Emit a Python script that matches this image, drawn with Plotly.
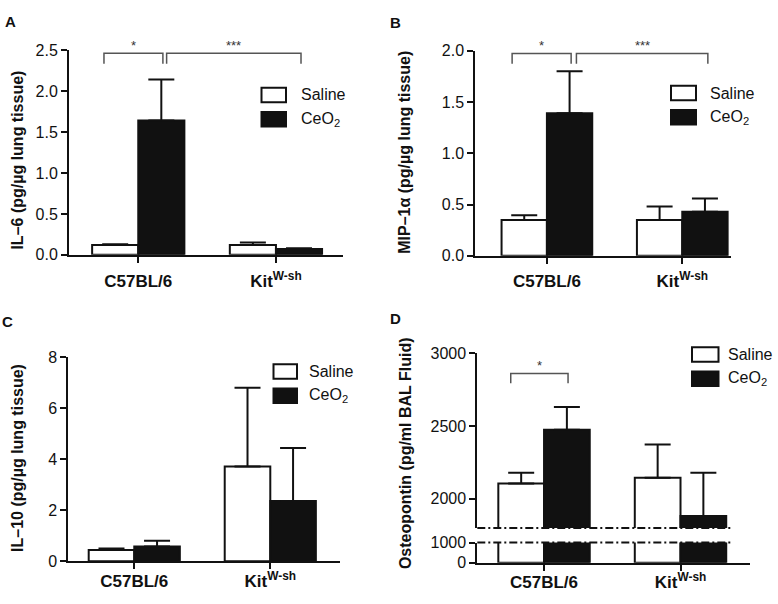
import plotly.graph_objects as go

# ---------------- data ----------------
categories = ["C57BL/6", "KitW-sh"]
tick_text = ["<b>C57BL/6</b>", "<b>Kit<sup>W-sh</sup></b>"]
series_names = ["Saline", "CeO<sub>2</sub>"]

# Panel A: IL-6 (pg/ug lung tissue)  -- mean and top of error bar
il6_saline = [0.12, 0.12]
il6_saline_top = [0.13, 0.15]
il6_ceo2 = [1.64, 0.07]
il6_ceo2_top = [2.14, 0.08]

# Panel B: MIP-1a (pg/ug lung tissue)
mip_saline = [0.35, 0.35]
mip_saline_top = [0.395, 0.48]
mip_ceo2 = [1.39, 0.43]
mip_ceo2_top = [1.80, 0.56]

# Panel C: IL-10 (pg/ug lung tissue)
il10_saline = [0.44, 3.72]
il10_saline_top = [0.50, 6.80]
il10_ceo2 = [0.58, 2.36]
il10_ceo2_top = [0.80, 4.44]

# Panel D: Osteopontin (pg/ml BAL fluid)
opn_saline = [2105, 2145]
opn_saline_top = [2178, 2373]
opn_ceo2 = [2473, 1882]
opn_ceo2_top = [2629, 2178]

# significance brackets: (x start, x end, top y, leg end y, label) in data units
brackets_a = [(-0.249, 0.179, 2.46, 2.334, "*"), (0.206, 1.182, 2.46, 2.334, "***")]
brackets_b = [(-0.257, 0.179, 1.974, 1.874, "*"), (0.218, 1.189, 1.974, 1.874, "***")]
brackets_d = [(-0.244, 0.176, 2860, 2793, "*")]

# ---------------- style / layout ----------------
W, H = 778, 604
BLACK = "#111111"
FONT = "Liberation Sans, Arial, Helvetica, sans-serif"


def fx(px):
    return px / W


def fy(py):
    return 1 - py / H


panels = {
    "A": dict(xa="x", ya="y", xdom=(69, 343), ydom=(254, 43.3), xr=[-0.503, 1.487], yr=[0, 2.5],
              tickvals=[0, 0.5, 1.0, 1.5, 2.0, 2.5], fmt=".1f", lab_off=4),
    "B": dict(xa="x2", ya="y2", xdom=(475.3, 731), ydom=(255, 44), xr=[-0.529, 1.36], yr=[0, 2.0],
              tickvals=[0, 0.5, 1.0, 1.5, 2.0], fmt=".1f", lab_off=3),
    "C": dict(xa="x3", ya="y3", xdom=(68.3, 340), ydom=(569.3, 359.3), xr=[-0.485, 1.5125], yr=[0, 8],
              tickvals=[0, 2, 4, 6, 8], fmt="d", lab_off=-3),
    "D": dict(xa="x4", ya="y4", xdom=(477.3, 749.7), ydom=(535, 355), xr=[-0.489, 1.507], yr=[1800, 3000],
              tickvals=[2000, 2500, 3000], fmt="d", lab_off=0),
    "D2": dict(xa="x5", ya="y5", xdom=(477.3, 749.7), ydom=(570.7, 550), xr=[-0.489, 1.507], yr=[0, 1000],
               tickvals=[0, 1000], fmt="d", lab_off=-3),
}

fig = go.Figure()


def add_pair(p, sal, sal_top, ceo, ceo_top, errors=True):
    cfg = panels[p]
    for name, vals, tops, fill in [(series_names[0], sal, sal_top, "white"),
                                   (series_names[1], ceo, ceo_top, BLACK)]:
        fig.add_trace(go.Bar(
            x=categories, y=vals, name=name, xaxis=cfg["xa"], yaxis=cfg["ya"],
            offsetgroup=name, showlegend=False,
            marker=dict(color=fill, line=dict(color=BLACK, width=2)),
            error_y=dict(type="data", symmetric=False,
                         array=[t - v for t, v in zip(tops, vals)], arrayminus=[0] * len(vals),
                         color=BLACK, thickness=2, width=13, visible=errors),
        ))


add_pair("A", il6_saline, il6_saline_top, il6_ceo2, il6_ceo2_top)
add_pair("B", mip_saline, mip_saline_top, mip_ceo2, mip_ceo2_top)
add_pair("C", il10_saline, il10_saline_top, il10_ceo2, il10_ceo2_top)
add_pair("D", opn_saline, opn_saline_top, opn_ceo2, opn_ceo2_top)
add_pair("D2", opn_saline, opn_saline_top, opn_ceo2, opn_ceo2_top, errors=False)

layout_axes = {}
for key, cfg in panels.items():
    xname = "xaxis" + cfg["xa"][1:]
    yname = "yaxis" + cfg["ya"][1:]
    show_x = key != "D"
    layout_axes[xname] = dict(
        domain=[fx(cfg["xdom"][0]), fx(cfg["xdom"][1])], anchor=cfg["ya"], type="category",
        range=cfg["xr"], showgrid=False, zeroline=False,
        showline=show_x, linecolor=BLACK, linewidth=2,
        ticks="outside" if show_x else "", ticklen=6, tickwidth=2, tickcolor=BLACK,
        tickvals=categories, ticktext=tick_text, showticklabels=show_x,
        ticklabelstandoff=cfg["lab_off"],
        tickfont=dict(size=17, color=BLACK, family=FONT),
    )
    layout_axes[yname] = dict(
        domain=[fy(cfg["ydom"][0]), fy(cfg["ydom"][1])], anchor=cfg["xa"], range=cfg["yr"],
        showgrid=False, zeroline=False, showline=True, linecolor=BLACK, linewidth=2,
        ticks="outside", ticklen=6, tickwidth=2, tickcolor=BLACK,
        tickvals=cfg["tickvals"], tickformat=cfg["fmt"],
        tickfont=dict(size=16, color=BLACK, family=FONT),
    )

shapes = []
annotations = []


def dom_frac(v, rng):
    return (v - rng[0]) / (rng[1] - rng[0])


# significance brackets
for key, brs in [("A", brackets_a), ("B", brackets_b), ("D", brackets_d)]:
    cfg = panels[key]
    yref = cfg["ya"] + " domain"
    for x0, x1, ytop, ybot, label in brs:
        t = dom_frac(ytop, cfg["yr"])
        b = dom_frac(ybot, cfg["yr"])
        shapes.append(dict(type="path", xref=cfg["xa"], yref=yref,
                           path=f"M {x0},{b} L {x0},{t} L {x1},{t} L {x1},{b}",
                           line=dict(color="#555555", width=1.5)))
        annotations.append(dict(xref=cfg["xa"], yref=yref, x=(x0 + x1) / 2, y=t, text=label,
                                showarrow=False, xanchor="center", yanchor="bottom", yshift=-2,
                                font=dict(size=13, color="#333333", family=FONT)))

# broken-axis dash-dot lines in panel D
dash_end = dom_frac(1.385, panels["D"]["xr"])
shapes.append(dict(type="line", xref="x4 domain", yref="y4 domain", x0=0, x1=dash_end, y0=0, y1=0,
                   line=dict(color=BLACK, width=2, dash="8px,3px,2px,3px")))
shapes.append(dict(type="line", xref="x5 domain", yref="y5 domain", x0=0, x1=dash_end, y0=1, y1=1,
                   line=dict(color=BLACK, width=2, dash="8px,3px,2px,3px")))

# legends (drawn boxes + labels)
legend_pos = {"A": (261.5, 286, 82, 299), "B": (671, 696, 80, 708),
              "C": (273.5, 297, 366.5, 307), "D": (692, 718.5, 349, 726)}
for key, (lx0, lx1, ly, tx) in legend_pos.items():
    for i, (name, fill) in enumerate([(series_names[0], "white"), (series_names[1], BLACK)]):
        top = ly + i * 25
        shapes.append(dict(type="rect", xref="paper", yref="paper",
                           x0=fx(lx0), x1=fx(lx1), y0=fy(top + 15), y1=fy(top),
                           fillcolor=fill, line=dict(color=BLACK, width=2)))
        annotations.append(dict(xref="paper", yref="paper", x=fx(tx), y=fy(top + 7.5), text=name,
                                showarrow=False, xanchor="left", yanchor="middle",
                                font=dict(size=16, color=BLACK, family=FONT)))

# y-axis titles
y_titles = [("IL–6 (pg/µg lung tissue)", 18, 157), ("MIP–1α (pg/µg lung tissue)", 405, 149),
            ("IL–10 (pg/µg lung tissue)", 18, 463), ("Osteopontin (pg/ml BAL Fluid)", 405, 458)]
for text, px, py in y_titles:
    annotations.append(dict(xref="paper", yref="paper", x=fx(px), y=fy(py), text=f"<b>{text}</b>",
                            textangle=-90, showarrow=False, xanchor="center", yanchor="middle",
                            font=dict(size=16, color=BLACK, family=FONT)))

# panel letters
for letter, px, py in [("A", 10, 14), ("B", 395, 15), ("C", 8, 323), ("D", 395, 320)]:
    annotations.append(dict(xref="paper", yref="paper", x=fx(px), y=fy(py), text=f"<b>{letter}</b>",
                            showarrow=False, xanchor="center", yanchor="middle",
                            font=dict(size=15, color=BLACK, family=FONT)))

fig.update_layout(
    width=W, height=H, margin=dict(l=0, r=0, t=0, b=0),
    paper_bgcolor="white", plot_bgcolor="white",
    barmode="group", bargap=0.33, bargroupgap=0,
    font=dict(family=FONT, color=BLACK),
    shapes=shapes, annotations=annotations, showlegend=False,
    **layout_axes,
)

fig.write_html("out.html", config={"displayModeBar": False},
               post_script="document.body.style.margin='0px';")
